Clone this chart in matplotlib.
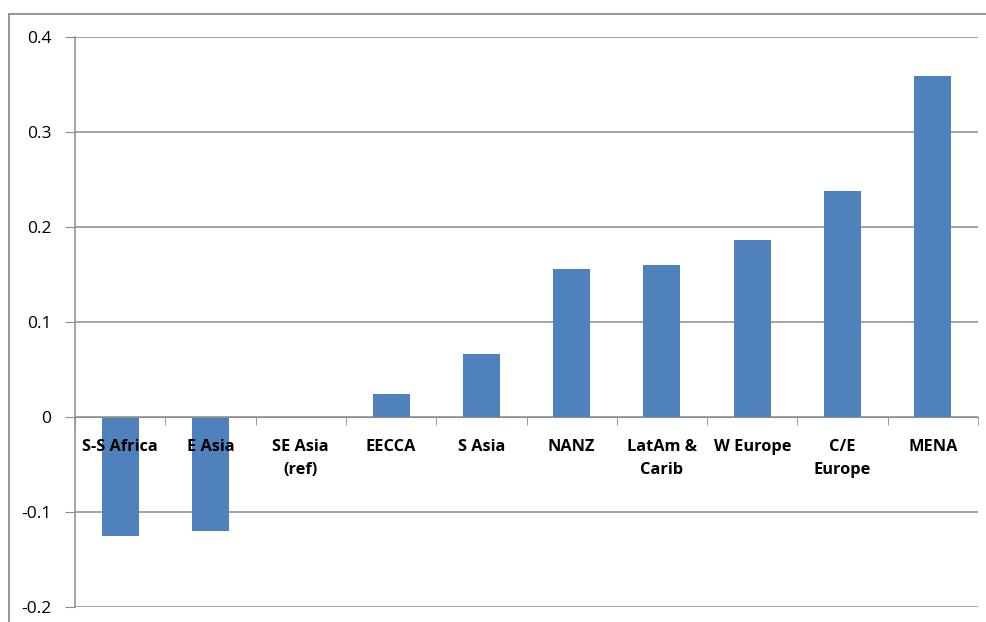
import numpy as np
import matplotlib.pyplot as plt
from matplotlib.patches import Rectangle
from matplotlib.ticker import FixedLocator

# regions and values
regions = ['S-S Africa', 'E Asia', 'SE Asia\n(ref)', 'EECCA', 'S Asia', 'NANZ',
           'LatAm &\nCarib', 'W Europe', 'C/E\nEurope', 'MENA']
values = [-0.125, -0.12, 0.0, 0.024, 0.066, 0.156, 0.16, 0.186, 0.238, 0.359]
yticks = [-0.2, -0.1, 0, 0.1, 0.2, 0.3, 0.4]
ylabels = ['-0.2', '-0.1', '0', '0.1', '0.2', '0.3', '0.4']

grey = '#8c8c8c'
plt.rcParams['font.family'] = ['Open Sans', 'DejaVu Sans']

fig = plt.figure(figsize=(9.87, 6.22), dpi=100)
ax = fig.add_axes([75 / 987, 15 / 622, 903 / 987, 570 / 622])

# chart area border
fig.patches.append(Rectangle((9 / 987, -0.1), 1.2, 1 - 14 / 622 + 0.1,
                             transform=fig.transFigure, fill=False,
                             edgecolor=grey, linewidth=1.3))

x = np.arange(len(regions))
ax.bar(x, values, width=0.41, color='#4f81bd', zorder=3)

ax.set_xlim(-0.5, len(regions) - 0.5)
ax.set_ylim(-0.2, 0.4)
ax.set_yticks(yticks)
ax.set_yticklabels(ylabels, fontsize=12.5)
ax.yaxis.grid(True, color=grey, linewidth=1.1, zorder=0)
ax.set_axisbelow(True)

ax.spines['bottom'].set_position(('data', 0))
ax.spines['bottom'].set_color(grey)
ax.spines['bottom'].set_zorder(4)
ax.spines['left'].set_color(grey)
ax.spines['left'].set_linewidth(1.1)
ax.spines['top'].set_visible(False)
ax.spines['right'].set_visible(False)

# category labels sit under the zero line, on top of the bars
ax.set_xticks(x)
ax.set_xticklabels([])
ax.tick_params(axis='x', which='major', length=0)
for i, lab in enumerate(regions):
    ax.annotate(lab, (i, 0), xytext=(0, -15.5), textcoords='offset points',
                ha='center', va='top', multialignment='center',
                fontsize=11.8, fontweight='bold', linespacing=1.6, zorder=6)

ax.xaxis.set_minor_locator(FixedLocator(np.arange(len(regions) + 1) - 0.5))
ax.tick_params(axis='x', which='minor', length=6, color=grey, direction='out')
ax.tick_params(axis='y', length=7, color=grey, pad=10)

plt.savefig('out.png', dpi=100)
